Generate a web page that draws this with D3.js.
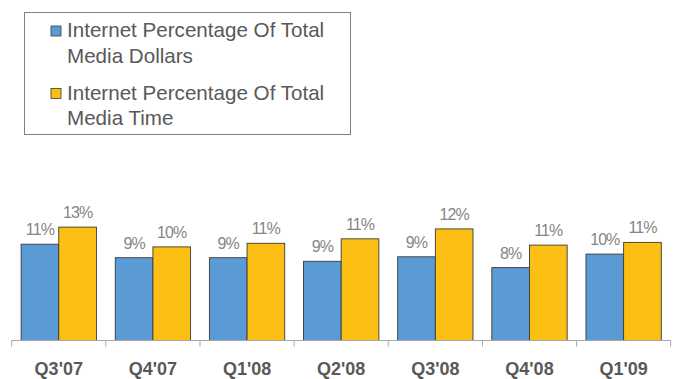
<!DOCTYPE html>
<html>
<head>
<meta charset="utf-8">
<script src="https://cdn.jsdelivr.net/npm/d3@7/dist/d3.min.js"></script>
<style>
  html, body { margin: 0; padding: 0; background: #fff; }
  svg { display: block; font-family: "Liberation Sans", Arial, sans-serif; }
</style>
</head>
<body>
<svg id="chart" width="676" height="379"></svg>
<script>
// Quarters shown on the x axis
const quarters = ["Q3'07", "Q4'07", "Q1'08", "Q2'08", "Q3'08", "Q4'08", "Q1'09"];
// Internet share of total media dollars (%)
const mediaDollars = [10.7, 9.2, 9.2, 8.8, 9.3, 8.1, 9.6];
// Internet share of total media time (%)
const mediaTime = [12.6, 10.4, 10.8, 11.3, 12.4, 10.6, 10.9];
// Legend entries (two lines each)
const seriesNames = [
  ["Internet Percentage Of Total", "Media Dollars"],
  ["Internet Percentage Of Total", "Media Time"]
];
const seriesColors = ["#5b9bd5", "#fcbf14"];

const svg = d3.select("#chart");

const plotLeft = 11.7, plotRight = 670.7, baseline = 340.5;

const x = d3.scaleBand()
  .domain(quarters)
  .range([plotLeft, plotRight])
  .paddingInner(0.2)
  .paddingOuter(0.1);

const xs = d3.scaleBand()
  .domain([0, 1])
  .range([0, x.bandwidth()]);

const y = d3.scaleLinear()
  .domain([0, 20])
  .range([baseline, baseline - 180]);

const series = [mediaDollars, mediaTime];
const fmt = v => Math.round(v) + "%";

// Bars
const groups = svg.append("g").selectAll("g")
  .data(quarters)
  .join("g")
  .attr("transform", d => `translate(${x(d)},0)`);

groups.selectAll("rect")
  .data((d, i) => series.map((s, k) => ({ k, v: s[i] })))
  .join("rect")
  .attr("x", d => xs(d.k))
  .attr("y", d => y(d.v))
  .attr("width", xs.bandwidth())
  .attr("height", d => y(0) - y(d.v))
  .attr("fill", d => seriesColors[d.k])
  .attr("stroke", "#3a3a3a")
  .attr("stroke-width", 0.9);

// Value labels
groups.selectAll("text")
  .data((d, i) => series.map((s, k) => ({ k, v: s[i] })))
  .join("text")
  .attr("x", d => xs(d.k) + xs.bandwidth() / 2)
  .attr("y", d => y(d.v) - 9)
  .attr("text-anchor", "middle")
  .attr("font-size", 16)
  .attr("letter-spacing", -0.9)
  .attr("fill", "#858585")
  .text(d => fmt(d.v));

// X axis: category labels
const axis = svg.append("g")
  .attr("transform", `translate(0,${baseline})`)
  .call(d3.axisBottom(x).tickSize(0).tickPadding(22));
axis.select(".domain").remove();
axis.selectAll("text")
  .attr("font-family", "'Liberation Sans', Arial, sans-serif")
  .attr("font-size", 18)
  .attr("font-weight", "bold")
  .attr("fill", "#595959");

// Axis line and tick marks at category boundaries
svg.append("line")
  .attr("x1", plotLeft).attr("x2", plotRight)
  .attr("y1", baseline).attr("y2", baseline)
  .attr("stroke", "#a6a6a6").attr("stroke-width", 1);

const bounds = d3.range(quarters.length + 1).map(i => plotLeft + i * x.step());
svg.append("g").selectAll("line")
  .data(bounds)
  .join("line")
  .attr("x1", d => d).attr("x2", d => d)
  .attr("y1", baseline).attr("y2", baseline + 6)
  .attr("stroke", "#a6a6a6").attr("stroke-width", 1);

// Legend
const legend = svg.append("g");
legend.append("rect")
  .attr("x", 24.5).attr("y", 12.5)
  .attr("width", 326).attr("height", 122)
  .attr("fill", "#fff")
  .attr("stroke", "#7f7f7f")
  .attr("stroke-width", 1);

const entryTop = [37, 99.5];
seriesNames.forEach((lines, k) => {
  legend.append("rect")
    .attr("x", 51).attr("y", entryTop[k] - 11)
    .attr("width", 10).attr("height", 10)
    .attr("fill", seriesColors[k])
    .attr("stroke", "#3a3a3a")
    .attr("stroke-width", 0.8);
  const t = legend.append("text")
    .attr("x", 67).attr("y", entryTop[k])
    .attr("font-size", 20.6)
    .attr("fill", "#595959");
  lines.forEach((ln, j) => {
    t.append("tspan")
      .attr("x", 67)
      .attr("dy", j === 0 ? 0 : 25.5)
      .text(ln);
  });
});
</script>
</body>
</html>
